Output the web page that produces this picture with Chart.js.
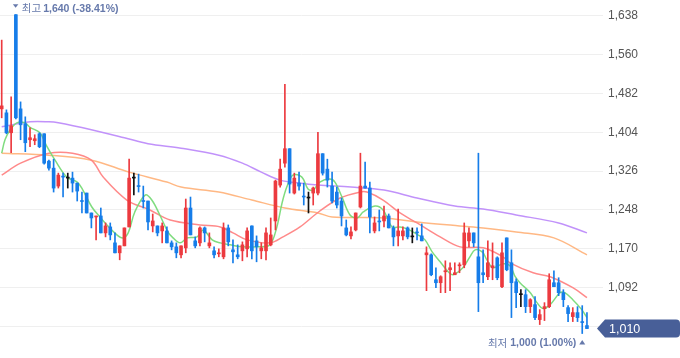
<!DOCTYPE html>
<html><head><meta charset="utf-8">
<script src="https://cdn.jsdelivr.net/npm/chart.js@4.4.1/dist/chart.umd.min.js"></script>
<style>html,body{margin:0;padding:0;background:#fff;}#wrap{width:680px;height:358px;position:relative;}</style>
</head><body><div id="wrap"><canvas id="c" width="680" height="358"></canvas></div>
<script>
// OHLC per trading day (index 0..124)
const opens  = [1451,1443,1403,1640,1451,1421,1389,1387,1401,1401,1346,1332,1296,1316,1312,1312,1302,1267,1282,1242,1234,1236,1202,1214,1182,1162,1176,1214,1312,1297,1267,1266,1216,1216,1206,1206,1182,1174,1158,1172,1252,1186,1182,1212,1176,1166,1160,1154,1212,1168,1158,1166,1170,1216,1186,1166,1166,1178,1226,1298,1342,1371,1282,1302,1276,1272,1282,1282,1361,1330,1296,1284,1266,1212,1196,1208,1254,1296,1292,1206,1226,1226,1236,1212,1196,1196,1212,1194,1204,1196,1158,1158,1108,1102,1124,1128,1118,1136,1138,1186,1202,1154,1122,1114,1132,1152,1094,1192,1142,1104,1078,1078,1054,1058,1028,1050,1054,1102,1102,1082,1052,1034,1042,1024,1016];
const highs  = [1589,1449,1475,1640,1465,1435,1413,1399,1403,1401,1348,1350,1322,1322,1322,1324,1302,1284,1282,1242,1236,1252,1222,1222,1202,1176,1212,1350,1322,1320,1296,1266,1240,1216,1222,1214,1186,1182,1176,1270,1274,1194,1214,1214,1202,1174,1170,1222,1218,1188,1178,1184,1212,1216,1196,1182,1212,1232,1308,1350,1500,1371,1322,1324,1302,1284,1294,1404,1361,1350,1324,1294,1272,1228,1214,1242,1362,1344,1304,1234,1248,1256,1240,1216,1250,1214,1214,1212,1212,1220,1174,1160,1132,1116,1146,1142,1142,1142,1222,1212,1202,1362,1168,1186,1182,1154,1182,1192,1168,1110,1088,1088,1070,1074,1048,1062,1120,1126,1112,1088,1056,1052,1054,1056,1042];
const lows   = [1433,1401,1363,1431,1389,1365,1375,1379,1373,1340,1328,1284,1292,1274,1292,1284,1266,1242,1242,1212,1188,1202,1194,1188,1162,1148,1176,1214,1278,1284,1252,1208,1204,1196,1182,1182,1168,1152,1152,1162,1198,1172,1176,1184,1172,1152,1154,1150,1176,1142,1150,1146,1154,1150,1144,1150,1148,1176,1208,1294,1334,1282,1280,1288,1258,1242,1258,1278,1318,1294,1262,1252,1216,1196,1190,1206,1252,1292,1202,1202,1206,1214,1212,1176,1176,1188,1190,1182,1188,1186,1086,1116,1092,1082,1082,1086,1118,1122,1132,1174,1174,1044,1102,1108,1108,1108,1092,1126,1032,1052,1054,1042,1042,1028,1018,1026,1052,1094,1076,1054,1024,1024,1024,1000,1010];
const closes = [1457,1403,1417,1433,1419,1383,1393,1391,1375,1342,1332,1292,1318,1314,1312,1302,1286,1265,1242,1232,1236,1202,1216,1198,1162,1176,1212,1312,1312,1295,1265,1224,1226,1202,1216,1182,1174,1162,1176,1252,1198,1176,1212,1202,1182,1158,1162,1212,1184,1164,1154,1178,1206,1166,1174,1172,1202,1198,1306,1330,1371,1300,1312,1296,1274,1272,1292,1361,1322,1308,1266,1258,1236,1198,1204,1242,1296,1292,1234,1222,1224,1236,1212,1194,1206,1206,1194,1194,1202,1186,1162,1118,1102,1114,1126,1132,1122,1138,1202,1202,1182,1102,1118,1142,1136,1112,1162,1128,1102,1082,1078,1054,1068,1032,1038,1054,1108,1094,1082,1068,1040,1042,1032,1022,1010];
const lastPrice = 1010;
const yTicks = [1014,1092,1170,1248,1326,1404,1482,1560,1638];
// moving averages: [day index, value]
const ma5 = [[0,1362],[0.7,1389],[1.8,1409],[3.2,1423],[4.9,1423],[6,1414],[8.1,1403],[9.6,1375],[11.3,1348],[13.8,1314],[16,1304],[17.2,1288],[19.1,1254],[20.8,1234],[22.3,1218],[24.4,1198],[25.7,1192],[26.8,1202],[28.2,1244],[30.4,1278],[31.8,1268],[33.5,1238],[35.2,1204],[36.3,1192],[37.8,1182],[39.3,1192],[41.4,1194],[42.7,1208],[44.6,1188],[46.3,1182],[48.4,1178],[51.1,1174],[54.1,1174],[56.8,1178],[58.3,1214],[59.4,1262],[60.4,1294],[61.7,1318],[63.6,1314],[64.9,1290],[66,1288],[67.4,1304],[69.5,1310],[70.6,1304],[72.1,1274],[73.8,1238],[75.3,1232],[76.6,1244],[79.1,1256],[80.8,1248],[82.7,1214],[84.4,1214],[85.9,1210],[88.2,1198],[89.7,1188],[91.2,1164],[92.9,1144],[94.6,1124],[95.6,1118],[97.7,1132],[99.2,1154],[100.3,1168],[101.8,1164],[102.8,1148],[104.1,1132],[106.2,1140],[107.7,1136],[108.8,1114],[109.8,1102],[112,1082],[113.4,1062],[114.7,1050],[116.2,1058],[118.3,1082],[119.3,1082],[121,1068],[122.9,1048],[124,1032]];
const ma20 = [[0,1318],[4,1342],[10,1362],[15,1362],[19,1348],[21.5,1314],[26.5,1268],[31.4,1248],[35.7,1228],[42,1218],[46.3,1214],[49,1202],[52,1188],[56.9,1182],[59.6,1194],[63.2,1214],[67.4,1246],[71.7,1272],[75.9,1284],[77.4,1284],[80.8,1268],[84.4,1242],[88,1222],[92.9,1194],[97.1,1174],[102,1172],[106.2,1154],[107.7,1142],[112.6,1122],[116.2,1114],[121,1092],[124,1072]];
const ma60 = [[0,1362],[10,1358],[19,1348],[27,1324],[35,1304],[38,1294],[46,1284],[53,1268],[60,1252],[67,1242],[70,1234],[81,1232],[88,1224],[97,1216],[102,1212],[109,1204],[117,1192],[124,1158]];
const ma120 = [[0,1415],[6,1425],[10,1425],[12,1423],[19,1409],[26,1393],[31,1381],[38,1372],[46,1358],[51,1342],[55,1324],[59,1308],[63,1302],[67,1298],[74,1294],[81,1288],[88,1272],[96,1256],[102,1250],[109,1238],[118,1222],[124,1202]];

const RED = '#ec3a3f', BLUE = '#167de9', BLACK = '#111111';
const candleColors = opens.map((o, i) => closes[i] > o ? RED : (closes[i] < o ? BLUE : BLACK));
const wickData = highs.map((h, i) => ({x: i, y: [lows[i], h]}));
const bodyData = opens.map((o, i) => ({x: i, y: [o, closes[i]]}));
const toPts = a => a.map(p => ({x: p[0], y: p[1]}));
const lineDs = (data, color, order) => ({type: 'line', data: toPts(data), borderColor: color, borderWidth: 1.5, pointRadius: 0, tension: 0.35, fill: false, order});

const fmt = v => v.toLocaleString('en-US');
const pct = v => ((lastPrice - v) / v * 100).toFixed(2) + '%';

const overlay = {
  id: 'overlay',
  afterDraw(chart) {
    const {ctx, scales: {x, y}, chartArea} = chart;
    const hi = Math.max(...highs), hiIdx = highs.indexOf(hi);
    const lo = Math.min(...lows), loIdx = lows.indexOf(lo);
    const col = '#6679ab';
    const krFont = '10.5px "Noto Sans CJK KR"';
    const numFont = 'bold 10.5px "Liberation Sans", Arial';
    ctx.save();
    ctx.textBaseline = 'middle';
    // high label
    const hx = x.getPixelForValue(hiIdx), hy = y.getPixelForValue(hi) - 6.5;
    ctx.fillStyle = col;
    ctx.beginPath(); ctx.moveTo(hx - 3, hy - 4); ctx.lineTo(hx + 2.5, hy - 4); ctx.lineTo(hx - 0.25, hy - 0.5); ctx.closePath(); ctx.fill();
    ctx.textAlign = 'left';
    ctx.font = krFont;
    ctx.fillText('최고', hx + 6, hy);
    const w1 = ctx.measureText('최고').width;
    ctx.font = numFont;
    ctx.fillText(fmt(hi) + ' (' + pct(hi) + ')', hx + 8 + w1, hy + 0.5);
    // low label
    const lx = x.getPixelForValue(loIdx), ly = y.getPixelForValue(lo) + 9.5;
    ctx.beginPath(); ctx.moveTo(lx - 3, ly + 1.5); ctx.lineTo(lx + 3, ly + 1.5); ctx.lineTo(lx, ly - 3); ctx.closePath(); ctx.fill();
    ctx.textAlign = 'right';
    ctx.font = numFont;
    const t2 = fmt(lo) + ' (' + pct(lo) + ')';
    ctx.fillText(t2, lx - 6, ly + 0.5);
    const w2 = ctx.measureText(t2).width;
    ctx.font = krFont;
    ctx.fillText('최저', lx - 9 - w2, ly);
    // last price tag
    const py = y.getPixelForValue(lastPrice);
    const tip = chartArea.right - 6, l = tip + 8, r = 680, h = 9, rr = 4;
    ctx.fillStyle = '#485f98';
    ctx.beginPath();
    ctx.moveTo(tip, py);
    ctx.lineTo(l, py - h);
    ctx.lineTo(r - rr, py - h);
    ctx.quadraticCurveTo(r, py - h, r, py - h + rr);
    ctx.lineTo(r, py + h - rr);
    ctx.quadraticCurveTo(r, py + h, r - rr, py + h);
    ctx.lineTo(l, py + h);
    ctx.closePath();
    ctx.fill();
    ctx.fillStyle = '#ffffff';
    ctx.textAlign = 'left';
    ctx.font = '12.5px "Liberation Sans", Arial';
    ctx.fillText(fmt(lastPrice), chartArea.right + 6, py + 0.5);
    ctx.restore();
  }
};

new Chart(document.getElementById('c'), {
  type: 'bar',
  data: {
    datasets: [
      {label: 'body', data: bodyData, backgroundColor: candleColors, barThickness: 3, minBarLength: 1, grouped: false, borderWidth: 0, order: 0},
      {label: 'wick', data: wickData, backgroundColor: candleColors, barThickness: 1, grouped: false, borderWidth: 0, order: 1},
      lineDs(ma5, 'rgba(120,218,120,0.95)', 2),
      lineDs(ma20, 'rgba(255,132,132,0.95)', 3),
      lineDs(ma60, 'rgba(255,180,125,0.95)', 4),
      lineDs(ma120, 'rgba(190,140,250,0.95)', 5)
    ]
  },
  options: {
    responsive: false,
    animation: false,
    devicePixelRatio: 1,
    layout: {padding: 0},
    plugins: {legend: {display: false}, tooltip: {enabled: false}},
    scales: {
      x: {type: 'linear', display: false, min: -0.36, max: 127.4, offset: false},
      y: {
        type: 'linear', position: 'right', min: 950.9, max: 1669.5,
        afterBuildTicks: s => { s.ticks = yTicks.map(v => ({value: v})); },
        afterFit: s => { s.width = 77; s.paddingTop = 0; s.paddingBottom = 0; },
        grid: {color: '#efefef', drawTicks: false, lineWidth: 1},
        border: {display: false},
        ticks: {padding: 5, color: '#555555', font: {size: 12, family: '"Liberation Sans", Arial'}, callback: v => fmt(v)}
      }
    }
  },
  plugins: [overlay]
});
</script>
</body></html>
